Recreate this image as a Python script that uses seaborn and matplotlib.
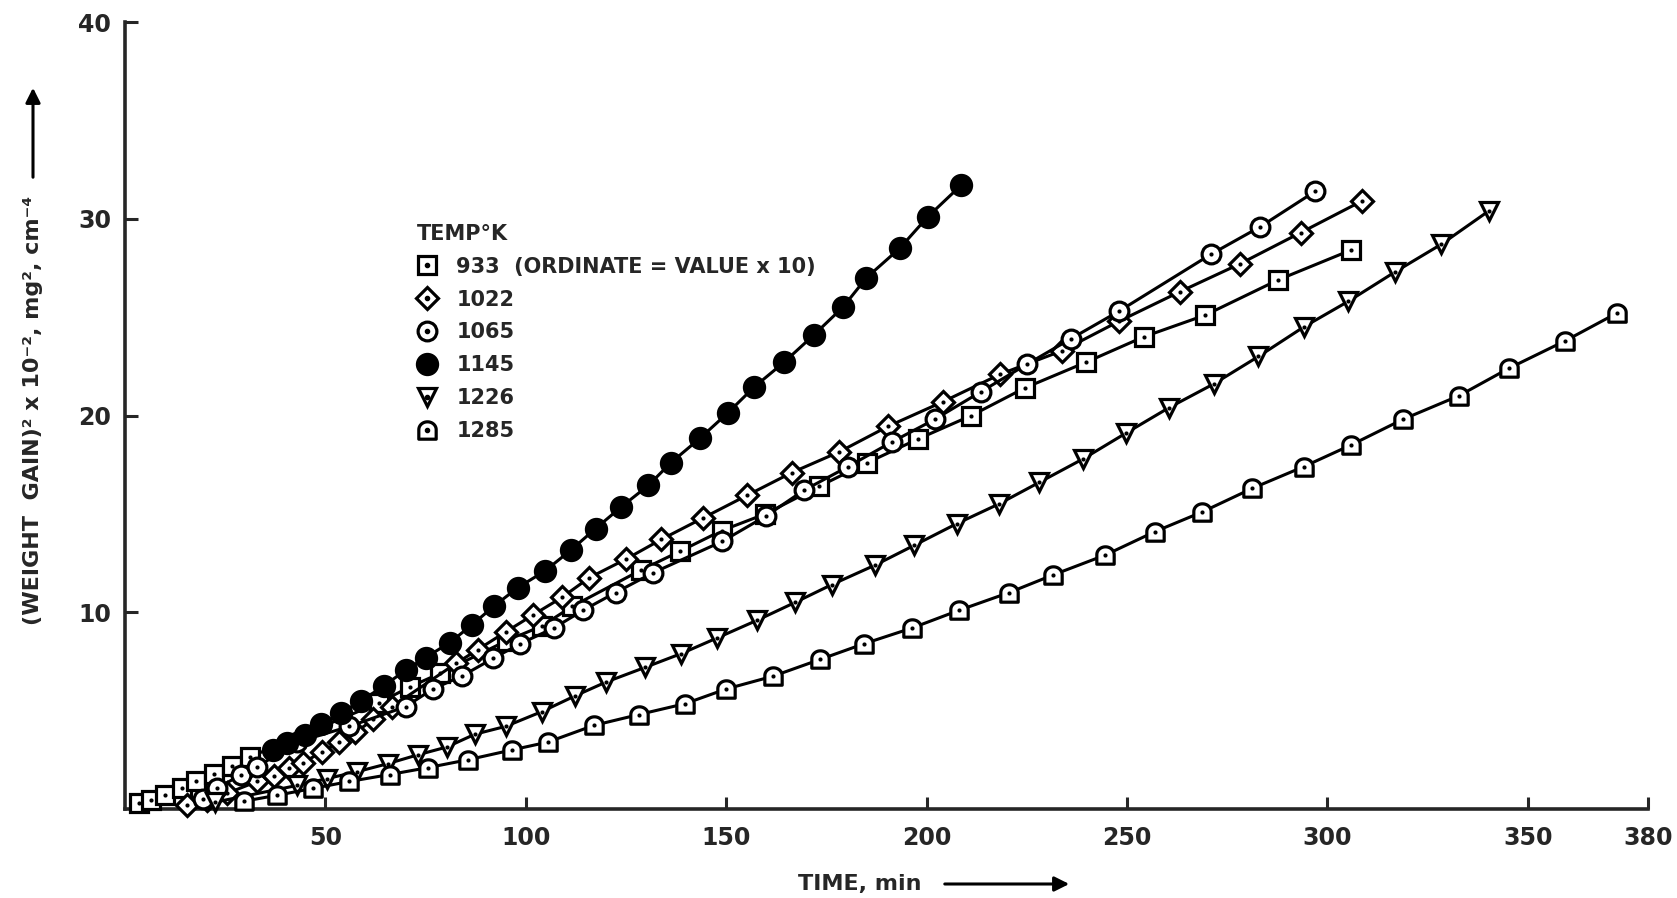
import numpy as np
import pandas as pd
import matplotlib
matplotlib.use("Agg")
import matplotlib.pyplot as plt
from matplotlib.path import Path
from matplotlib.lines import Line2D
from matplotlib.legend_handler import HandlerTuple
import seaborn as sns

sns.set_style("ticks")
plt.rcParams["font.family"] = ["DejaVu Sans"]
plt.rcParams["font.weight"] = "bold"

# values: time (min) and (weight gain)^2 x 10^-2
t_933 = [3.6, 6.6, 10.1, 14.3, 17.6, 22.1, 26.6, 31.2, 63.4, 71, 78.7, 95.2, 104, 111.6,
         128.8, 138.5, 148.9, 159.8, 173.2, 185.2, 197.8, 211.2, 224.5, 239.7, 254.2,
         269.5, 287.8, 305.8]
g_933 = [0.3, 0.45, 0.7, 1.05, 1.4, 1.8, 2.2, 2.65, 5.4, 6.2, 6.9, 8.55, 9.3, 10.3,
         12.15, 13.1, 14.15, 15.0, 16.4, 17.6, 18.8, 20.0, 21.4, 22.7, 24.0,
         25.1, 26.9, 28.4]

t_1022 = [15.5, 20.5, 25.5, 33, 37.2, 41, 44.3, 49.2, 53.5, 57.5, 62, 66.6, 82.6, 88, 95,
          101.7, 109, 115.8, 125, 133.8, 144.3, 155.3, 166.4, 178.2, 190.4, 204.1, 218.4,
          233.9, 248.1, 263.3, 278.1, 293.4, 308.6]
g_1022 = [0.2, 0.45, 0.8, 1.4, 1.7, 2.1, 2.35, 2.9, 3.4, 3.9, 4.55, 5.2, 7.4, 8.1, 9.0,
          9.85, 10.75, 11.75, 12.7, 13.7, 14.8, 15.95, 17.1, 18.15, 19.45, 20.7, 22.1,
          23.3, 24.8, 26.3, 27.7, 29.3, 30.9]

t_1065 = [19.5, 23, 29, 33, 43, 56, 70, 76.8, 84, 91.8, 98.6, 107, 114.3, 122.4, 131.7,
          149, 160, 169.4, 180.4, 191.3, 202, 213.5, 225, 236, 248, 271, 283.3, 297]
g_1065 = [0.5, 1.05, 1.75, 2.15, 3.4, 4.2, 5.2, 6.1, 6.75, 7.65, 8.4, 9.2, 10.1, 11.0, 12.0,
          13.6, 14.9, 16.2, 17.4, 18.65, 19.8, 21.2, 22.6, 23.9, 25.3, 28.2, 29.6, 31.4]

t_1145 = [37, 40.5, 45, 49, 54, 59, 64.5, 70, 75, 81, 86.5, 92, 98, 104.8, 111.2, 117.4,
          123.8, 130.6, 136.2, 143.5, 150.5, 157, 164.4, 171.9, 179.1, 185, 193.3, 200.3,
          208.6]
g_1145 = [3.0, 3.35, 3.75, 4.3, 4.9, 5.5, 6.25, 7.05, 7.7, 8.45, 9.35, 10.3, 11.25, 12.1,
          13.15, 14.25, 15.35, 16.45, 17.6, 18.85, 20.15, 21.45, 22.7, 24.1, 25.5, 27.0,
          28.5, 30.1, 31.7]

t_1226 = [22.5, 43, 50.5, 58, 65.5, 73, 80.3, 87.3, 95, 104, 112.3, 120, 129.8, 138.8,
          147.8, 157.8, 167.2, 176.3, 187.2, 196.9, 207.5, 218, 228.1, 239.1, 249.7, 260.5,
          271.6, 282.8, 294.1, 305.2, 316.9, 328.4, 340.3]
g_1226 = [0.35, 1.2, 1.55, 1.9, 2.3, 2.75, 3.15, 3.8, 4.2, 4.95, 5.75, 6.45, 7.2, 7.9,
          8.7, 9.6, 10.5, 11.4, 12.4, 13.4, 14.5, 15.5, 16.6, 17.8, 19.1, 20.4,
          21.6, 23.0, 24.5, 25.8, 27.3, 28.7, 30.4]

t_1285 = [29.8, 38, 47, 56, 66, 75.5, 85.5, 96.5, 105.5, 117, 128.2, 139.7, 150, 161.7,
          173.4, 184.4, 196.4, 208.1, 220.6, 231.6, 244.5, 257, 268.8, 281.3, 294.1, 305.9,
          318.8, 332.8, 345.3, 359.4, 372.2]
g_1285 = [0.4, 0.7, 1.05, 1.4, 1.75, 2.1, 2.5, 3.0, 3.4, 4.25, 4.8, 5.35, 6.1, 6.75,
          7.6, 8.4, 9.2, 10.1, 11.0, 11.9, 12.9, 14.1, 15.1, 16.3, 17.4, 18.5,
          19.8, 21.0, 22.4, 23.8, 25.2]

temps = ["933", "1022", "1065", "1145", "1226", "1285"]
legend_labels = ["933  (ORDINATE = VALUE x 10)", "1022", "1065", "1145", "1226", "1285"]
x_ticks = [50, 100, 150, 200, 250, 300, 350, 380]
y_ticks = [10, 20, 30, 40]

# rounded-top "bullet" marker used for 1285
arc = np.linspace(0, np.pi, 24)
bullet_verts = [(-1, -1), (1, -1), (1, 0.1)] + list(zip(np.cos(arc), 0.1 + 0.9 * np.sin(arc))) + [(-1, 0.1), (-1, -1)]
bullet = Path(bullet_verts, closed=True)

series = {
    "933": (t_933, g_933, "s", 12.5, True),
    "1022": (t_1022, g_1022, "D", 11, True),
    "1065": (t_1065, g_1065, "o", 13.5, True),
    "1145": (t_1145, g_1145, "o", 14.5, False),
    "1226": (t_1226, g_1226, "v", 13.5, True),
    "1285": (t_1285, g_1285, bullet, 12.5, True),
}

fig = plt.figure(figsize=(16.77, 8.98), dpi=100)
ax = fig.add_axes([125 / 1677, 1 - 809 / 898, (1648 - 125) / 1677, (809 - 22) / 898])

handles = []
for i, name in enumerate(temps):
    t, g, mk, ms, dotted = series[name]
    df = pd.DataFrame({"time": t, "gain": g})
    face = "white" if dotted else "black"
    sns.lineplot(data=df, x="time", y="gain", ax=ax, color="black", lw=2.2,
                 marker=mk, markersize=ms, markerfacecolor=face,
                 markeredgecolor="black", markeredgewidth=2.3,
                 clip_on=False, zorder=3 + 2 * i)
    mh = Line2D([], [], ls="none", marker=mk, markersize=ms, markerfacecolor=face,
                markeredgecolor="black", markeredgewidth=2.3)
    if dotted:
        sns.scatterplot(data=df, x="time", y="gain", ax=ax, color="black", s=9,
                        linewidth=0, clip_on=False, zorder=4 + 2 * i)
        dh = Line2D([], [], ls="none", marker="o", markersize=3, color="black")
        handles.append((mh, dh))
    else:
        handles.append(mh)

ax.set_xlim(0, 380)
ax.set_ylim(0, 40)
ax.set_xticks(x_ticks)
ax.set_xticklabels([str(v) for v in x_ticks])
ax.set_yticks(y_ticks)
ax.set_yticklabels([str(v) for v in y_ticks])
ax.tick_params(direction="in", length=9, width=2.2, labelsize=17)
ax.tick_params(axis="x", pad=12)
ax.tick_params(axis="y", pad=10)
for lab in ax.get_xticklabels() + ax.get_yticklabels():
    lab.set_fontweight("bold")
sns.despine(ax=ax)
for sp in ["left", "bottom"]:
    ax.spines[sp].set_linewidth(2.6)
ax.set_xlabel("")
ax.set_ylabel("")

leg = ax.legend(handles, legend_labels, title="TEMP°K", loc="upper left",
                bbox_to_anchor=(398 / 1677, 1 - 205 / 898), bbox_transform=fig.transFigure,
                frameon=False, fontsize=15, title_fontsize=15, alignment="left",
                handlelength=1.0, handletextpad=0.9, labelspacing=0.62,
                handler_map={tuple: HandlerTuple(ndivide=1)})
leg.get_title().set_fontweight("bold")
for txt in leg.get_texts():
    txt.set_fontweight("bold")

fig.text(33 / 1677, 1 - 410 / 898, "(WEIGHT  GAIN)² x 10⁻², mg², cm⁻⁴",
         rotation=90, ha="center", va="center", fontsize=16, fontweight="bold")
ax.annotate("", xy=(33 / 1677, 1 - 85 / 898), xytext=(33 / 1677, 1 - 180 / 898),
            xycoords="figure fraction", textcoords="figure fraction",
            arrowprops=dict(arrowstyle="-|>", lw=2.2, color="black", mutation_scale=22))

fig.text(860 / 1677, 1 - 884 / 898, "TIME, min", ha="center", va="center",
         fontsize=16, fontweight="bold")
ax.annotate("", xy=(1072 / 1677, 1 - 884 / 898), xytext=(942 / 1677, 1 - 884 / 898),
            xycoords="figure fraction", textcoords="figure fraction",
            arrowprops=dict(arrowstyle="-|>", lw=2.2, color="black", mutation_scale=22))

fig.savefig("out.png", dpi=100)
